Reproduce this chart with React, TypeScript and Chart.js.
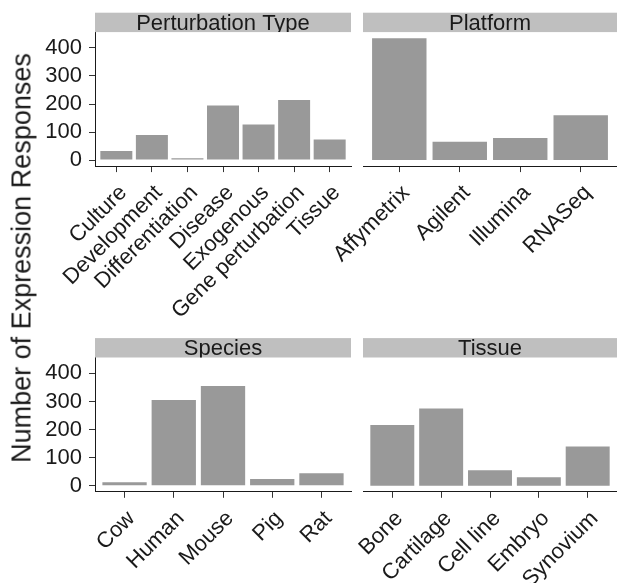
import React, { useEffect, useRef } from 'react';
import { Chart, registerables } from 'chart.js';

Chart.register(...registerables);

// ---- Data ----
const PERTURBATION_LABELS = ['Culture', 'Development', 'Differentiation', 'Disease', 'Exogenous', 'Gene perturbation', 'Tissue'];
const PERTURBATION_VALUES = [32, 89, 6, 195, 127, 214, 73];

const PLATFORM_LABELS = ['Affymetrix', 'Agilent', 'Illumina', 'RNASeq'];
const PLATFORM_VALUES = [435, 65, 79, 160];

const SPECIES_LABELS = ['Cow', 'Human', 'Mouse', 'Pig', 'Rat'];
const SPECIES_VALUES = [12, 305, 355, 24, 44];

const TISSUE_LABELS = ['Bone', 'Cartilage', 'Cell line', 'Embryo', 'Synovium'];
const TISSUE_VALUES = [216, 275, 55, 30, 140];

const Y_TICKS = [0, 100, 200, 300, 400];
const Y_TITLE = 'Number of Expression Responses';

// ---- Styling ----
const FONT = "'Liberation Sans', Arial, Helvetica, sans-serif";
const TEXT_COLOR = '#1a1a1a';
const BAR_COLOR = '#999999';
const STRIP_COLOR = '#bfbfbf';

const Y_DATA_MAX = Math.max(...PERTURBATION_VALUES, ...PLATFORM_VALUES, ...SPECIES_VALUES, ...TISSUE_VALUES);
const Y_PAD = Y_DATA_MAX * 0.05;

type Box = { left: number; top: number; width: number; height: number };
type Area = { left: number; top: number; right: number; bottom: number };

const stripPlugin = {
  id: 'strip',
  afterDraw(chart: any, _args: any, opts: any) {
    const { ctx, chartArea } = chart;
    const h = 19.4;
    const l = chartArea.left;
    const r = chartArea.right;
    const t = chartArea.top - h;
    ctx.save();
    ctx.fillStyle = STRIP_COLOR;
    ctx.fillRect(l, t, r - l, h);
    ctx.beginPath();
    ctx.rect(l, t, r - l, h);
    ctx.clip();
    ctx.fillStyle = TEXT_COLOR;
    ctx.font = `22px ${FONT}`;
    ctx.textAlign = 'center';
    ctx.textBaseline = 'alphabetic';
    ctx.fillText(opts.text, (l + r) / 2, t + 17.3);
    ctx.restore();
  },
};

function Panel(props: { title: string; labels: string[]; values: number[]; showY: boolean; box: Box; area: Area }) {
  const { title, labels, values, showY, box, area } = props;
  const ref = useRef<HTMLCanvasElement | null>(null);

  useEffect(() => {
    if (!ref.current) return;
    const chart = new Chart(ref.current, {
      type: 'bar',
      data: {
        datasets: [
          {
            data: values.map((v, i) => ({ x: i + 1, y: v })),
            backgroundColor: BAR_COLOR,
            borderWidth: 0,
            barPercentage: 0.9,
            categoryPercentage: 1,
          },
        ],
      },
      plugins: [stripPlugin],
      options: {
        animation: false,
        responsive: false,
        maintainAspectRatio: false,
        events: [],
        layout: {
          padding: {
            left: showY ? 0 : area.left,
            top: area.top,
            right: box.width - area.right,
            bottom: 0,
          },
        },
        plugins: {
          legend: { display: false },
          tooltip: { enabled: false },
          title: { display: false },
          strip: { text: title },
        } as any,
        scales: {
          x: {
            type: 'linear',
            min: 0.4,
            max: labels.length + 0.6,
            offset: false,
            afterBuildTicks: (s: any) => {
              s.ticks = labels.map((_, i) => ({ value: i + 1 }));
            },
            afterFit: (s: any) => {
              s.height = box.height - area.bottom;
              s.paddingLeft = 0;
              s.paddingRight = 0;
            },
            ticks: {
              autoSkip: false,
              minRotation: 45,
              maxRotation: 45,
              padding: 8,
              labelOffset: 7,
              color: TEXT_COLOR,
              font: { family: FONT, size: 22 },
              callback: (v: any) => labels[Math.round(Number(v)) - 1] ?? '',
            },
            grid: {
              display: true,
              offset: false,
              drawOnChartArea: false,
              drawTicks: true,
              tickLength: 6,
              color: '#333333',
              lineWidth: 1,
            },
            border: { display: true, color: TEXT_COLOR, width: 1 },
          },
          y: {
            type: 'linear',
            display: showY,
            min: -Y_PAD,
            max: Y_DATA_MAX + Y_PAD,
            afterBuildTicks: (s: any) => {
              s.ticks = Y_TICKS.map((v) => ({ value: v }));
            },
            afterFit: (s: any) => {
              if (showY) s.width = area.left;
              s.paddingTop = 0;
              s.paddingBottom = 0;
            },
            ticks: {
              padding: 7,
              color: TEXT_COLOR,
              font: { family: FONT, size: 22 },
              callback: (v: any) => String(v),
            },
            grid: {
              display: true,
              offset: false,
              drawOnChartArea: false,
              drawTicks: true,
              tickLength: 6,
              color: '#333333',
              lineWidth: 1,
            },
            border: { display: true, color: TEXT_COLOR, width: 1 },
          },
        } as any,
      },
    } as any);
    return () => chart.destroy();
  }, []);

  return (
    <canvas
      ref={ref}
      width={box.width}
      height={box.height}
      style={{ position: 'absolute', left: box.left, top: box.top, width: box.width, height: box.height }}
    />
  );
}

export default function App() {
  return (
    <div
      style={{
        position: 'absolute',
        left: 0,
        top: 0,
        width: 617,
        height: 583,
        overflow: 'hidden',
        background: '#ffffff',
      }}
    >
      <Panel
        title="Perturbation Type"
        labels={PERTURBATION_LABELS}
        values={PERTURBATION_VALUES}
        showY={true}
        box={{ left: 0, top: 0, width: 370, height: 330 }}
        area={{ left: 95, top: 32.1, right: 351, bottom: 166.1 }}
      />
      <Panel
        title="Platform"
        labels={PLATFORM_LABELS}
        values={PLATFORM_VALUES}
        showY={false}
        box={{ left: 290, top: 0, width: 327, height: 330 }}
        area={{ left: 73, top: 32.1, right: 327, bottom: 166.1 }}
      />
      <Panel
        title="Species"
        labels={SPECIES_LABELS}
        values={SPECIES_VALUES}
        showY={true}
        box={{ left: 0, top: 322, width: 370, height: 261 }}
        area={{ left: 95, top: 35.5, right: 351, bottom: 169.8 }}
      />
      <Panel
        title="Tissue"
        labels={TISSUE_LABELS}
        values={TISSUE_VALUES}
        showY={false}
        box={{ left: 290, top: 322, width: 327, height: 261 }}
        area={{ left: 73, top: 35.5, right: 327, bottom: 169.8 }}
      />
      <div
        style={{
          position: 'absolute',
          left: 22,
          top: 257.5,
          transform: 'translate(-50%, -50%) rotate(-90deg)',
          whiteSpace: 'nowrap',
          fontFamily: FONT,
          fontSize: 27,
          lineHeight: 1,
          color: TEXT_COLOR,
        }}
      >
        {Y_TITLE}
      </div>
    </div>
  );
}
